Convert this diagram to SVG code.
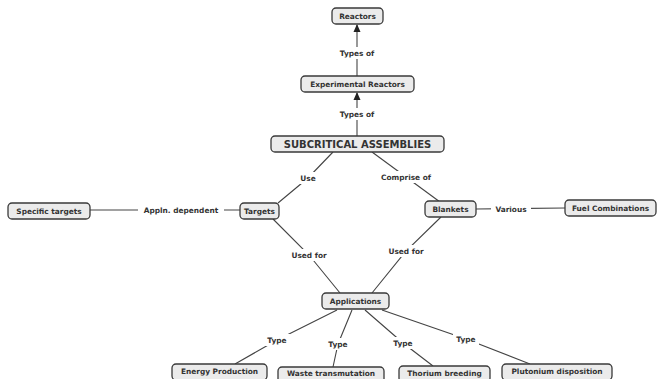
<svg xmlns="http://www.w3.org/2000/svg" width="657" height="379" viewBox="0 0 657 379">
<style>
.box{fill:#ebebeb;stroke:#3a3a3a;stroke-width:1.3}
.t{font-family:"DejaVu Sans",Verdana,sans-serif;font-weight:bold;font-size:7.4px;fill:#333;text-anchor:middle;dominant-baseline:central}
.big{font-size:10px}
.ln{stroke:#444;stroke-width:1.1;fill:none}
.lb{fill:#fff}
</style>
<defs>
<marker id="ah" markerWidth="8" markerHeight="8" refX="7" refY="4" orient="auto" markerUnits="userSpaceOnUse">
<path d="M0,0.5 L8,4 L0,7.5 z" fill="#222"/>
</marker>
</defs>
<rect width="657" height="379" fill="#fff"/>
<g id="connectors">
<line class="ln" x1="357" y1="76" x2="357" y2="25" marker-end="url(#ah)"/>
<line class="ln" x1="357" y1="136" x2="357" y2="93" marker-end="url(#ah)"/>
<polyline class="ln" points="333,152 308,178 278,203"/>
<polyline class="ln" points="372,152 406,177 440,202"/>
<line class="ln" x1="90" y1="210" x2="240" y2="210"/>
<line class="ln" x1="476" y1="209" x2="565" y2="208"/>
<polyline class="ln" points="273,219 309,255 340,293"/>
<polyline class="ln" points="441,217 406,251 372,293"/>
<polyline class="ln" points="337,310 277,340 235,364"/>
<polyline class="ln" points="352,310 338,344 333,367"/>
<polyline class="ln" points="365,310 403,343 433,366"/>
<polyline class="ln" points="382,310 466,339 530,364"/>
<rect class="lb" x="334" y="47" width="46" height="12"/>
<text class="t" x="357" y="53">Types of</text>
<rect class="lb" x="334" y="108" width="46" height="12"/>
<text class="t" x="357" y="114">Types of</text>
<rect class="lb" x="297" y="172" width="22" height="12"/>
<text class="t" x="308" y="178">Use</text>
<rect class="lb" x="376" y="171" width="60" height="12"/>
<text class="t" x="406" y="177">Comprise of</text>
<rect class="lb" x="138" y="204" width="86" height="12"/>
<text class="t" x="181" y="210">Appln. dependent</text>
<rect class="lb" x="491" y="203" width="40" height="12"/>
<text class="t" x="511" y="209">Various</text>
<rect class="lb" x="287" y="249" width="44" height="12"/>
<text class="t" x="309" y="255">Used for</text>
<rect class="lb" x="384" y="245" width="44" height="12"/>
<text class="t" x="406" y="251">Used for</text>
<rect class="lb" x="264" y="334" width="26" height="12"/>
<text class="t" x="277" y="340">Type</text>
<rect class="lb" x="325" y="338" width="26" height="12"/>
<text class="t" x="338" y="344">Type</text>
<rect class="lb" x="390" y="337" width="26" height="12"/>
<text class="t" x="403" y="343">Type</text>
<rect class="lb" x="453" y="333" width="26" height="12"/>
<text class="t" x="466" y="339">Type</text>
</g>
<g id="reactors"><rect class="box" x="332" y="8" width="51" height="16" rx="4"/><text class="t" x="357.5" y="16">Reactors</text></g>
<g id="experimental"><rect class="box" x="301" y="76" width="113" height="16" rx="4"/><text class="t" x="357.5" y="84">Experimental Reactors</text></g>
<g id="subcritical"><rect class="box" x="271" y="136" width="173" height="16" rx="4"/><text class="t big" x="357.5" y="144">SUBCRITICAL ASSEMBLIES</text></g>
<g id="specific"><rect class="box" x="8" y="203" width="82" height="16" rx="4"/><text class="t" x="49" y="211">Specific targets</text></g>
<g id="targets"><rect class="box" x="240" y="203" width="39" height="16" rx="4"/><text class="t" x="259.5" y="211">Targets</text></g>
<g id="blankets"><rect class="box" x="425" y="201" width="51" height="16" rx="4"/><text class="t" x="450.5" y="209">Blankets</text></g>
<g id="fuel"><rect class="box" x="565" y="200" width="91" height="16" rx="4"/><text class="t" x="610.5" y="208">Fuel Combinations</text></g>
<g id="applications"><rect class="box" x="322" y="293" width="67" height="16" rx="4"/><text class="t" x="355.5" y="301">Applications</text></g>
<g id="energy"><rect class="box" x="172" y="364" width="95" height="16" rx="4"/><text class="t" x="219.5" y="371">Energy Production</text></g>
<g id="waste"><rect class="box" x="278" y="367" width="106" height="16" rx="4"/><text class="t" x="331" y="373.5">Waste transmutation</text></g>
<g id="thorium"><rect class="box" x="399" y="366" width="91" height="16" rx="4"/><text class="t" x="444.5" y="373">Thorium breeding</text></g>
<g id="plutonium"><rect class="box" x="502" y="364" width="110" height="16" rx="4"/><text class="t" x="557" y="371">Plutonium disposition</text></g>
</svg>
